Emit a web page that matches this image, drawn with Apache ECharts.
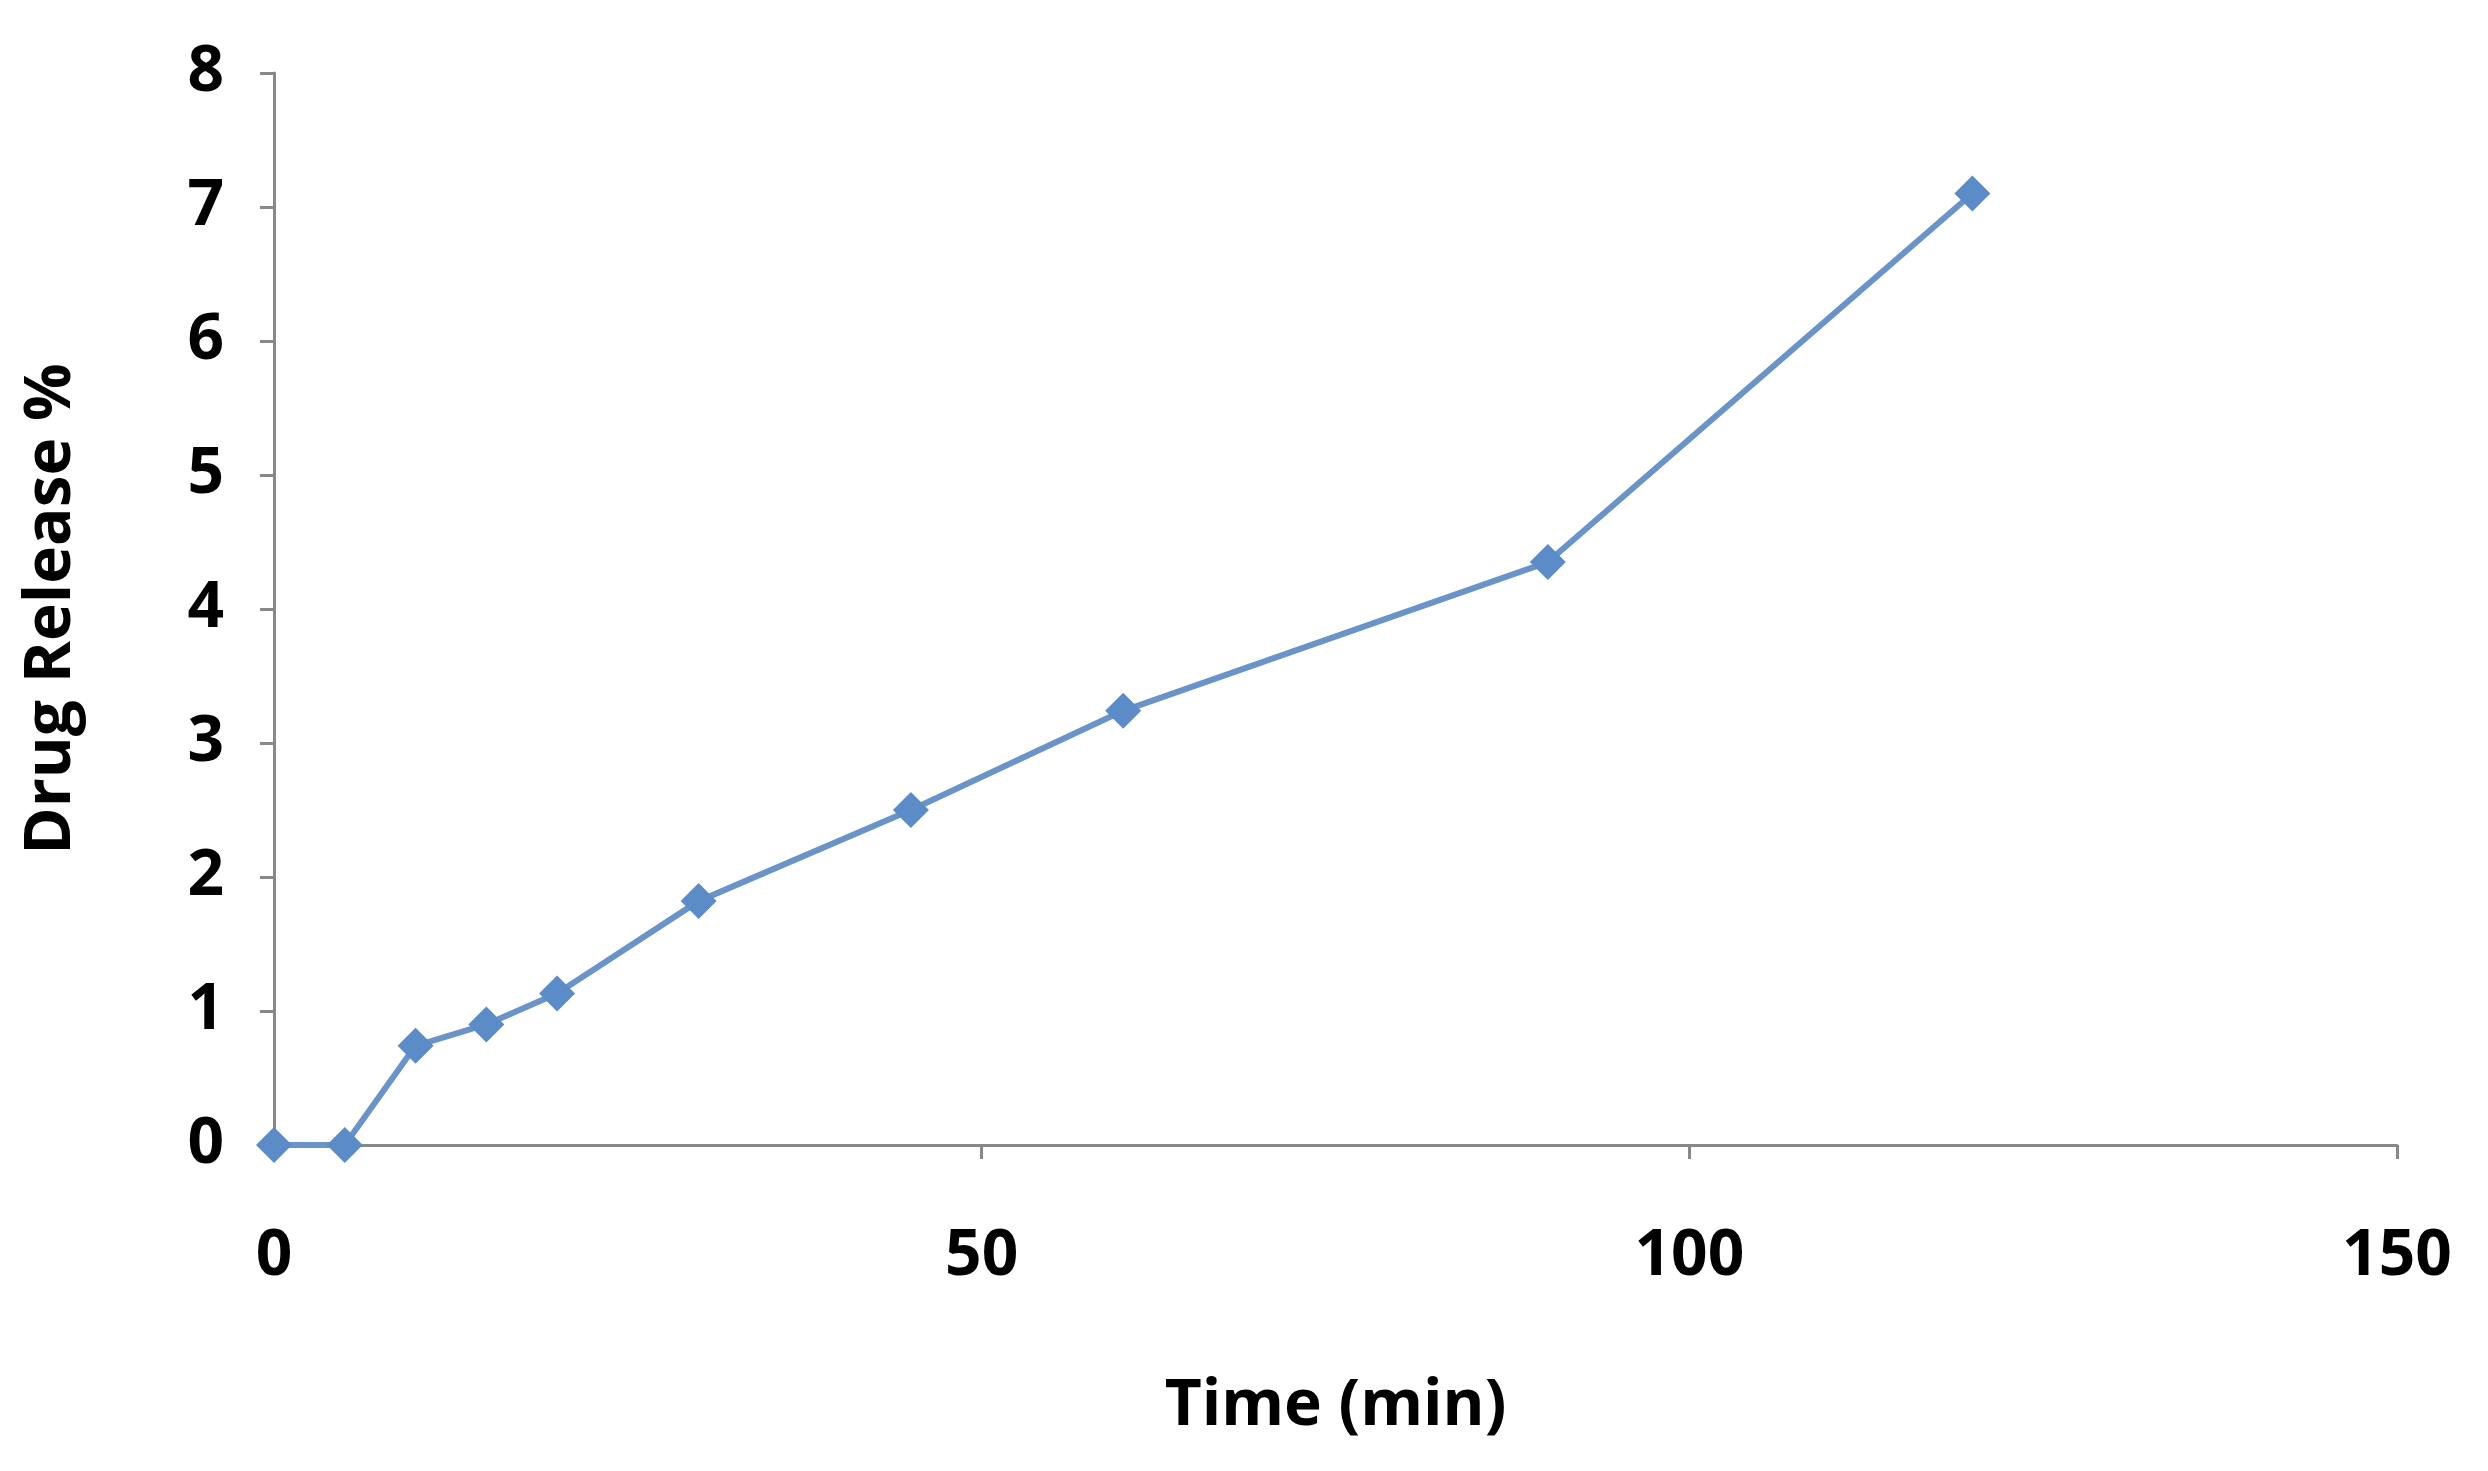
<!DOCTYPE html>
<html>
<head>
<meta charset="utf-8">
<script src="https://cdn.jsdelivr.net/npm/echarts@6/dist/echarts.min.js"></script>
<style>html,body{margin:0;background:#fff}#chart{width:2488px;height:1471px}</style>
</head>
<body>
<div id="chart"></div>
<script>
var timeMin = [0, 5, 10, 15, 20, 30, 45, 60, 90, 120];
var release = [0, 0, 0.74, 0.9, 1.13, 1.82, 2.5, 3.24, 4.35, 7.1];

var pts = timeMin.map(function (t, i) { return [t, release[i]]; });
var labelFont = { fontFamily: 'Open Sans', fontWeight: 'bold', fontSize: 64, color: '#000' };

var chart = echarts.init(document.getElementById('chart'));
chart.setOption({
  animation: false,
  grid: { left: 274, right: 91, top: 73, bottom: 326 },
  xAxis: {
    type: 'value', min: 0, max: 150, interval: 50,
    name: 'Time (min)', nameLocation: 'middle', nameGap: 230,
    nameTextStyle: labelFont,
    axisLine: { lineStyle: { color: '#888', width: 3 } },
    axisTick: { show: true, length: 14, lineStyle: { color: '#888', width: 3 } },
    axisLabel: Object.assign({ margin: 80 }, labelFont),
    splitLine: { show: false }
  },
  yAxis: {
    type: 'value', min: 0, max: 8, interval: 1,
    name: 'Drug Release %', nameLocation: 'middle', nameGap: 190, nameRotate: 90,
    nameTextStyle: labelFont,
    axisLine: { show: true, lineStyle: { color: '#888', width: 3 } },
    axisTick: { show: true, length: 14, lineStyle: { color: '#888', width: 3 } },
    axisLabel: Object.assign({ margin: 50 }, labelFont),
    splitLine: { show: false }
  },
  series: [{
    type: 'line',
    data: pts,
    symbol: 'diamond',
    symbolSize: 36,
    lineStyle: { color: '#6a93c8', width: 6 },
    itemStyle: { color: '#5b8cc8' }
  }]
});
</script>
</body>
</html>
